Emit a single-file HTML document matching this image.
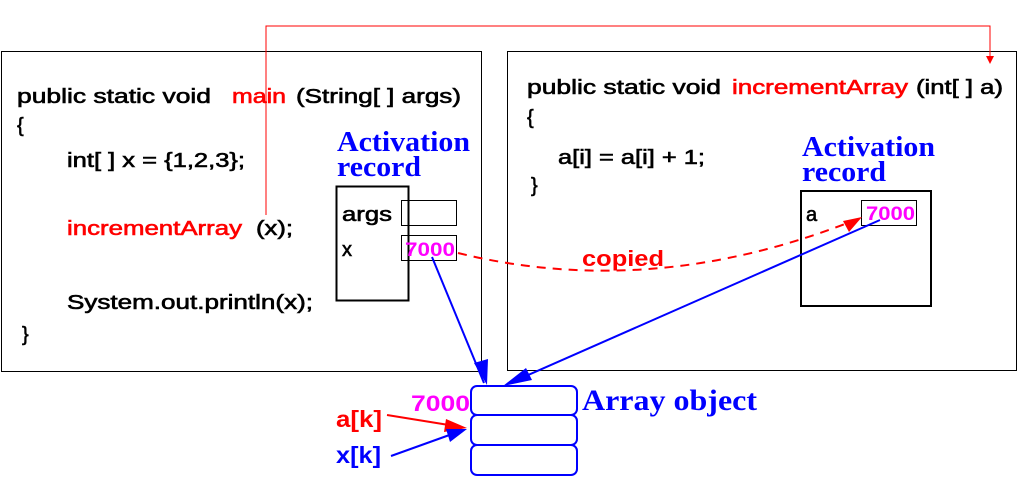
<!DOCTYPE html>
<html><head><style>body{margin:0;background:#fff}svg{display:block}</style></head><body>
<svg width="1018" height="478" xmlns="http://www.w3.org/2000/svg" font-family="Liberation Sans, sans-serif">
<rect x="1.5" y="51.5" width="480" height="320" fill="none" stroke="#000" stroke-width="1"/>
<rect x="507.5" y="51.5" width="509" height="319" fill="none" stroke="#000" stroke-width="1"/>
<g font-size="20" fill="#000" stroke="#000" stroke-width="0.6">
<text x="17" y="103" textLength="194" lengthAdjust="spacingAndGlyphs">public static void</text>
<text x="232" y="103" fill="#f00" stroke="#f00" textLength="54" lengthAdjust="spacingAndGlyphs">main</text>
<text x="296" y="103" textLength="165" lengthAdjust="spacingAndGlyphs">(String[ ] args)</text>
<text x="17" y="132">{</text>
<text x="67" y="167" textLength="178" lengthAdjust="spacingAndGlyphs">int[ ] x = {1,2,3};</text>
<text x="67" y="235" fill="#f00" stroke="#f00" textLength="175" lengthAdjust="spacingAndGlyphs">incrementArray</text>
<text x="256" y="235" textLength="37" lengthAdjust="spacingAndGlyphs">(x);</text>
<text x="67" y="309" textLength="246" lengthAdjust="spacingAndGlyphs">System.out.println(x);</text>
<text x="22" y="341">}</text>
<text x="527" y="94" textLength="194" lengthAdjust="spacingAndGlyphs">public static void</text>
<text x="732" y="94" fill="#f00" stroke="#f00" textLength="176" lengthAdjust="spacingAndGlyphs">incrementArray</text>
<text x="916" y="94" textLength="87" lengthAdjust="spacingAndGlyphs">(int[ ] a)</text>
<text x="527" y="124">{</text>
<text x="558" y="164" textLength="147" lengthAdjust="spacingAndGlyphs">a[i] = a[i] + 1;</text>
<text x="531" y="192">}</text>
<text x="342" y="221" textLength="50" lengthAdjust="spacingAndGlyphs">args</text>
<text x="342" y="256">x</text>
<text x="806" y="221">a</text>
</g>
<polyline points="266,215 266,26 990,26 990,58" fill="none" stroke="#f00" stroke-width="1"/>
<path d="M986,56 L994,56 L990,64z" fill="#f00"/>
<g font-family="Liberation Serif, serif" font-weight="bold" fill="#0000ff" font-size="28">
<text x="337" y="151" textLength="133" lengthAdjust="spacingAndGlyphs">Activation</text><text x="337" y="176" textLength="84" lengthAdjust="spacingAndGlyphs">record</text>
<text x="802" y="156" textLength="133" lengthAdjust="spacingAndGlyphs">Activation</text><text x="802" y="181" textLength="84" lengthAdjust="spacingAndGlyphs">record</text>
<text x="582" y="410" font-size="30" textLength="175" lengthAdjust="spacingAndGlyphs">Array object</text>
</g>
<rect x="336.5" y="186.5" width="72" height="114" fill="none" stroke="#000" stroke-width="2"/>
<rect x="401.5" y="200.5" width="55" height="25" fill="none" stroke="#000"/>
<rect x="401.5" y="235.5" width="55" height="25" fill="none" stroke="#000"/>
<rect x="801" y="191" width="130" height="115" fill="none" stroke="#000" stroke-width="2"/>
<rect x="861.5" y="200.5" width="55" height="25" fill="none" stroke="#000"/>
<g font-weight="bold" fill="#f0f" font-size="19">
<text x="405" y="256" textLength="50" lengthAdjust="spacingAndGlyphs">7000</text>
<text x="866" y="220" textLength="49" lengthAdjust="spacingAndGlyphs">7000</text>
<text x="411" y="411" font-size="22" textLength="59" lengthAdjust="spacingAndGlyphs">7000</text>
</g>
<path d="M458,253 Q650,300 850,222" fill="none" stroke="#f00" stroke-width="2" stroke-dasharray="9,7"/>
<path d="M862,217 L843,221 L849,232z" fill="#f00"/>
<text x="582" y="266" font-weight="bold" font-size="22" fill="#f00" textLength="82" lengthAdjust="spacingAndGlyphs">copied</text>
<line x1="432" y1="257" x2="484" y2="383" stroke="#00f" stroke-width="2"/>
<path d="M487,385 L474,363 L488,359z" fill="#00f"/>
<line x1="880" y1="220" x2="510" y2="383" stroke="#00f" stroke-width="2"/>
<path d="M503,386 L526,368 L532,380z" fill="#00f"/>
<g fill="none" stroke="#00f" stroke-width="2">
<rect x="471" y="386" width="106" height="29" rx="6"/>
<rect x="471" y="415" width="106" height="30" rx="6"/>
<rect x="471" y="445" width="106" height="30" rx="6"/>
</g>
<text x="336" y="427" font-weight="bold" font-size="23" fill="#f00" textLength="46" lengthAdjust="spacingAndGlyphs">a[k]</text>
<text x="336" y="463" font-weight="bold" font-size="23" fill="#00f" textLength="45" lengthAdjust="spacingAndGlyphs">x[k]</text>
<line x1="387" y1="415" x2="455" y2="426" stroke="#f00" stroke-width="2"/>
<path d="M467,428 L446,419 L444,432z" fill="#f00"/>
<line x1="391" y1="456" x2="455" y2="433" stroke="#00f" stroke-width="2"/>
<path d="M467,429 L446,429 L450,442z" fill="#00f"/>
</svg>
</body></html>
